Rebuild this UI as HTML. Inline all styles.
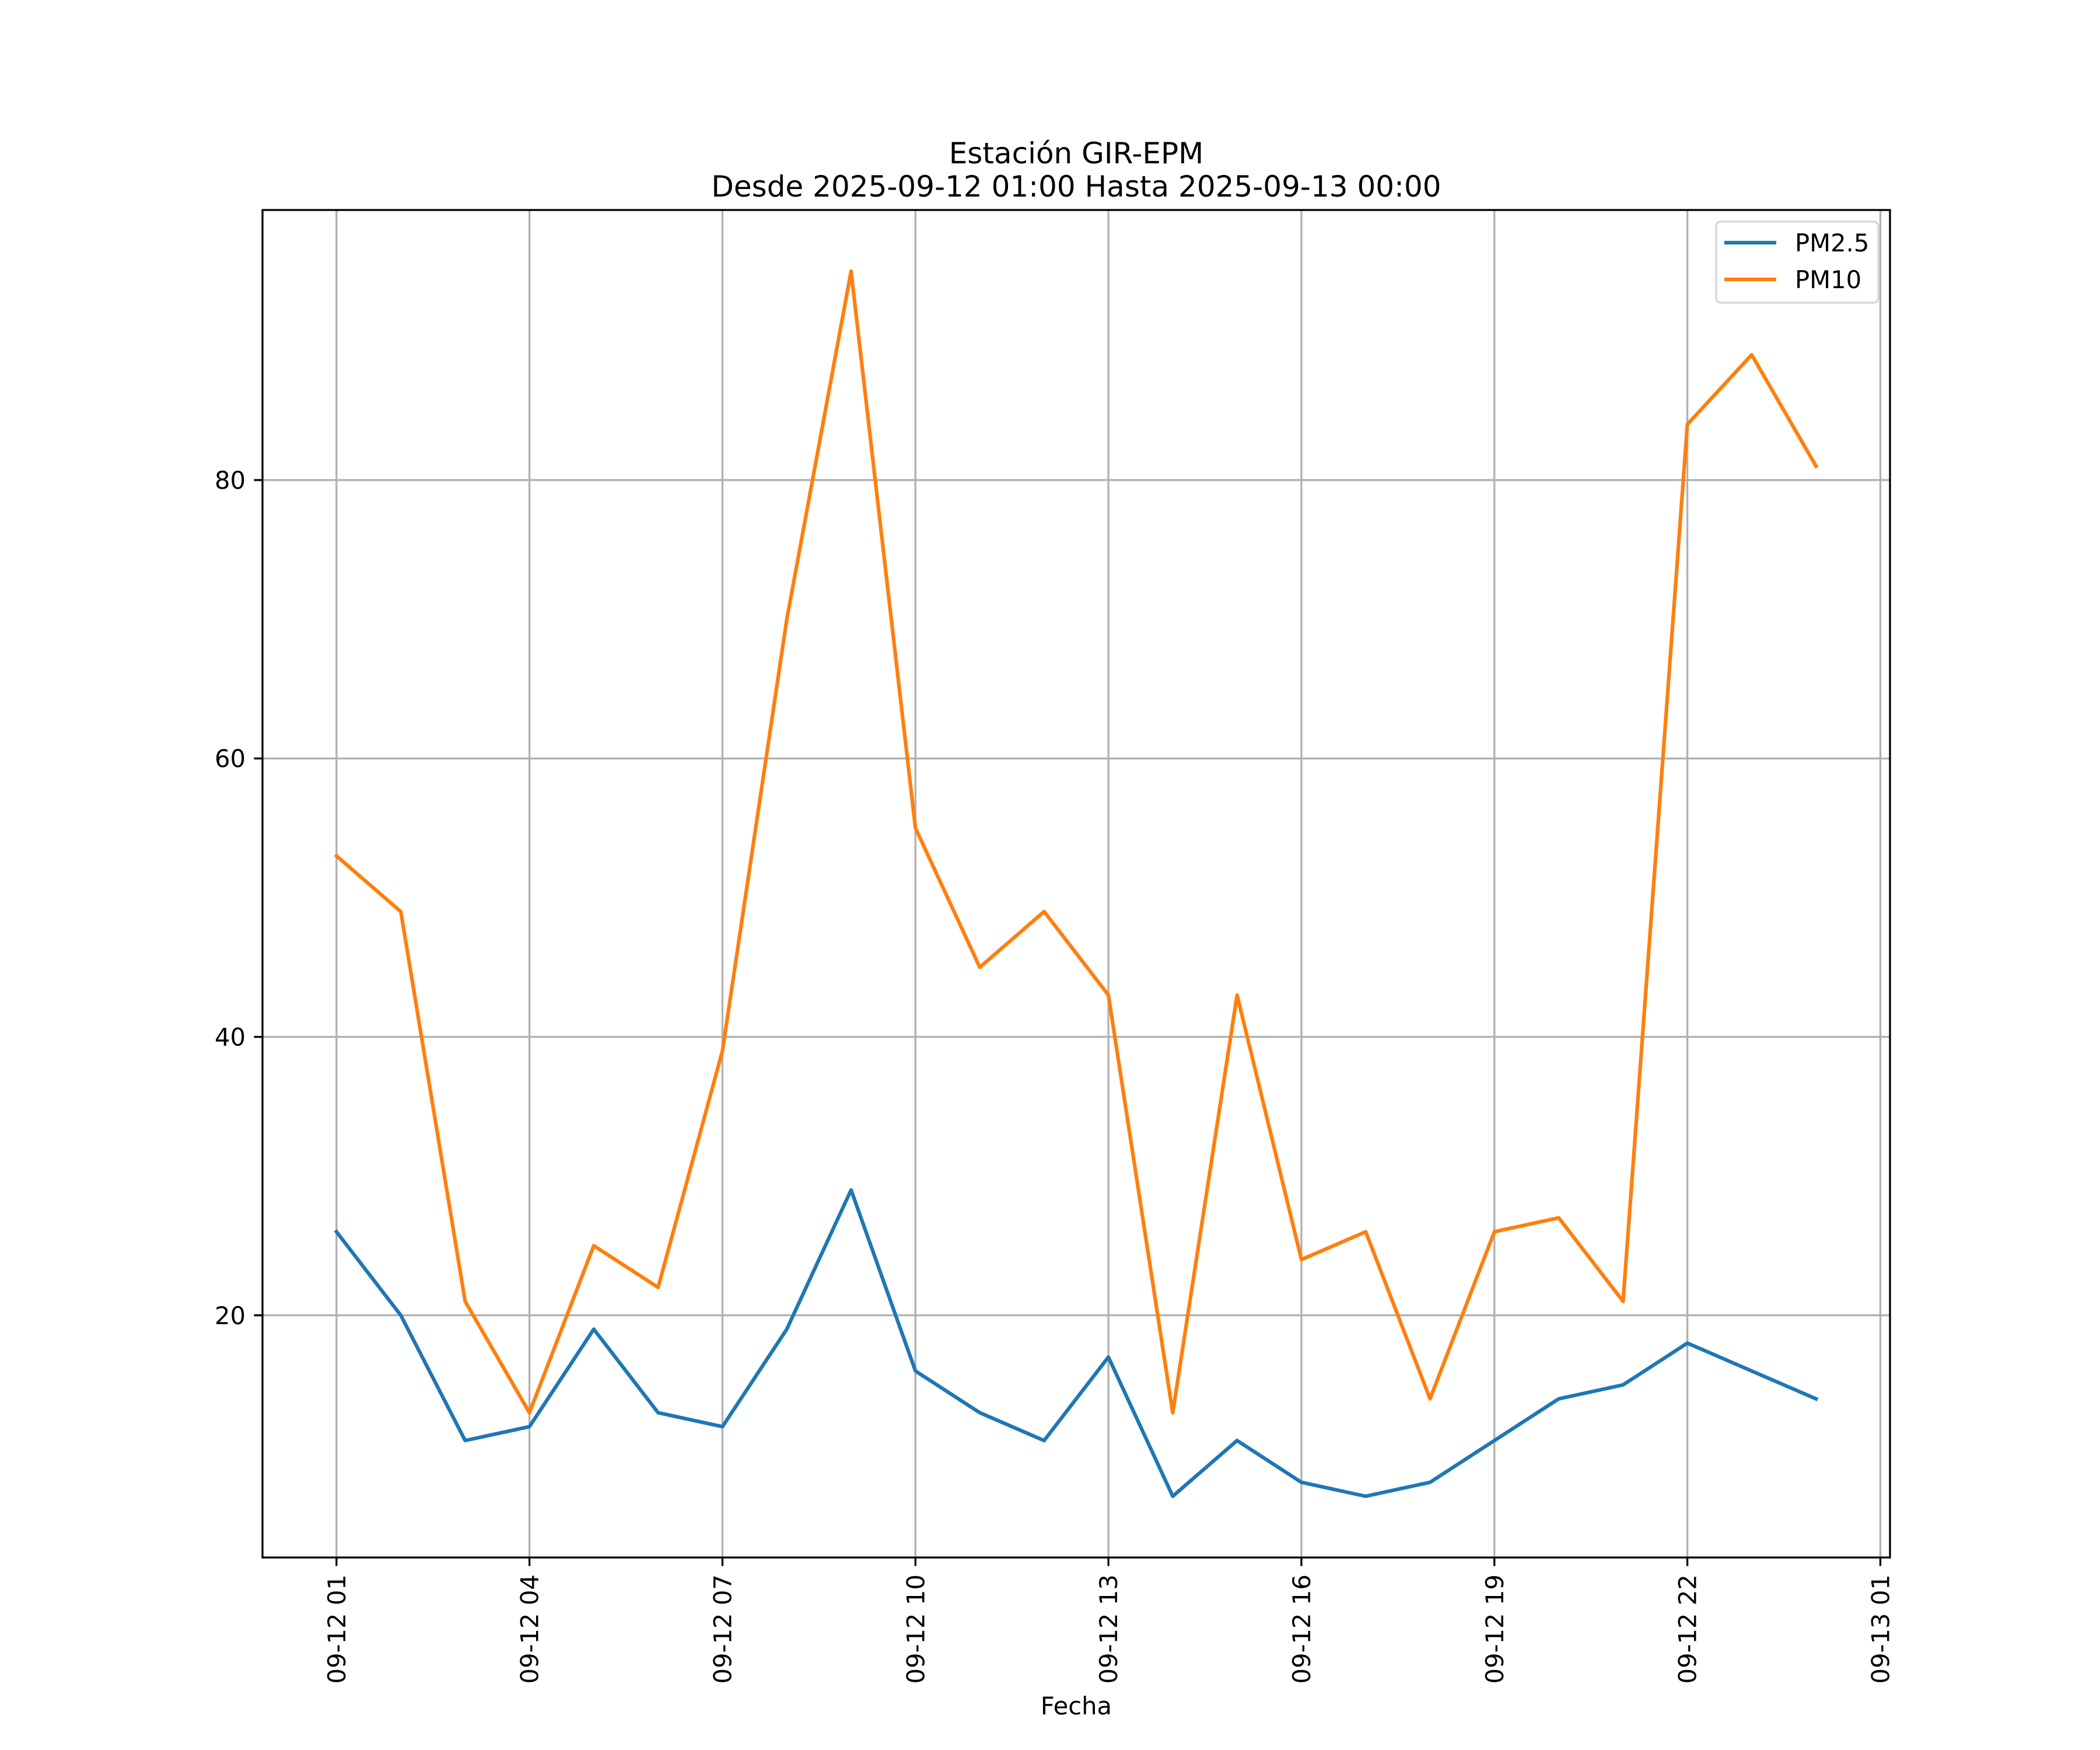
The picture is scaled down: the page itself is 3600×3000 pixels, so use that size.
<!DOCTYPE html>
<html><head><meta charset="utf-8"><style>
html,body{margin:0;padding:0;background:#fff;}
svg{display:block;font-family:"DejaVu Sans","Liberation Sans",sans-serif;}
</style></head><body>
<svg id="chart" width="3600" height="3000" viewBox="0 0 3600 3000" xmlns="http://www.w3.org/2000/svg">
<rect width="3600" height="3000" fill="#fff"/>
<text x="1845" y="280" font-size="50" text-anchor="middle">Estación GIR-EPM</text>
<text x="1845" y="337" font-size="50" text-anchor="middle">Desde 2025-09-12 01:00 Hasta 2025-09-13 00:00</text>
<g id="grid"></g>
<g id="series"></g>
<rect x="450" y="360" width="2790" height="2310" fill="none" stroke="#000" stroke-width="3.3"/>
<g id="ticks"></g>
<text x="1845" y="2939" font-size="41.7" text-anchor="middle">Fecha</text>
<g>
<rect x="2942" y="380" width="278" height="139" rx="8" fill="#fff" fill-opacity="0.8" stroke="#d6d6d6" stroke-width="3.3"/>
<line x1="2956" y1="416" x2="3045" y2="416" stroke="#1f77b4" stroke-width="6.25"/>
<text x="3077" y="431" font-size="41.7">PM2.5</text>
<line x1="2956" y1="479" x2="3045" y2="479" stroke="#ff7f0e" stroke-width="6.25"/>
<text x="3077" y="494" font-size="41.7">PM10</text>
</g>
</svg>
<script>
const hours = [1,2,3,4,5,6,7,8,9,10,11,12,13,14,15,16,17,18,19,20,21,22,23,24];
const pm25 = [26,20,11,12,19,13,12,19,29,16,13,11,17,7,11,8,7,8,11,14,15,18,16,14];
const pm10 = [53,49,21,13,25,22,39,70,95,55,45,49,43,13,43,24,26,14,26,27,21,84,89,81];
const xTickHours = [1,4,7,10,13,16,19,22,25];
const xTickLabels = ["09-12 01","09-12 04","09-12 07","09-12 10","09-12 13","09-12 16","09-12 19","09-12 22","09-13 01"];
const yTicks = [20,40,60,80];

const L=450,R=3240,T=360,B=2670;
const allV = pm25.concat(pm10);
const vmin=Math.min(...allV), vmax=Math.max(...allV), vm=(vmax-vmin)*0.05;
const y0=vmin-vm, y1=vmax+vm;
const hmin=Math.min(...hours), hmax=Math.max(...hours), hm=(hmax-hmin)*0.05;
const x0=hmin-hm, x1=hmax+hm;
const X=h=>L+(h-x0)/(x1-x0)*(R-L);
const Y=v=>B-(v-y0)/(y1-y0)*(B-T);
const NS="http://www.w3.org/2000/svg";
function mk(tag,attrs,parent){const e=document.createElementNS(NS,tag);for(const k in attrs)e.setAttribute(k,attrs[k]);parent.appendChild(e);return e;}
const grid=document.getElementById('grid'),ticks=document.getElementById('ticks'),series=document.getElementById('series');
xTickHours.forEach((h,i)=>{
  const x=X(h);
  const g=mk('line',{x1:x,y1:T,x2:x,y2:B,stroke:'#b0b0b0','stroke-width':3.3},grid);
  
  
  const t=mk('line',{x1:x,y1:B,x2:x,y2:B+14.6,stroke:'#000','stroke-width':3.3},ticks);
  
  
  const tx=mk('text',{x:0,y:0,'font-size':41.7,'text-anchor':'end',transform:`translate(${x+15},${B+29}) rotate(-90)`},ticks);
  tx.textContent=xTickLabels[i];
  
  
});
yTicks.forEach(v=>{
  const y=Y(v);
  const g=mk('line',{x1:L,y1:y,x2:R,y2:y,stroke:'#b0b0b0','stroke-width':3.3},grid);
  
  
  const t=mk('line',{x1:L-14.6,y1:y,x2:L,y2:y,stroke:'#000','stroke-width':3.3},ticks);
  
  
  const tx=mk('text',{x:L-29,y:y+15,'font-size':41.7,'text-anchor':'end'},ticks);
  tx.textContent=v;
  
  
});
function line(vals,color,name){
  const pts=vals.map((v,i)=>X(hours[i]).toFixed(1)+','+Y(v).toFixed(1)).join(' ');
  const p=mk('polyline',{points:pts,fill:'none',stroke:color,'stroke-width':6.25,'stroke-linejoin':'round','stroke-linecap':'square'},series);
  
  
}
line(pm25,'#1f77b4','pm25-line');
line(pm10,'#ff7f0e','pm10-line');
</script>
</body></html>
